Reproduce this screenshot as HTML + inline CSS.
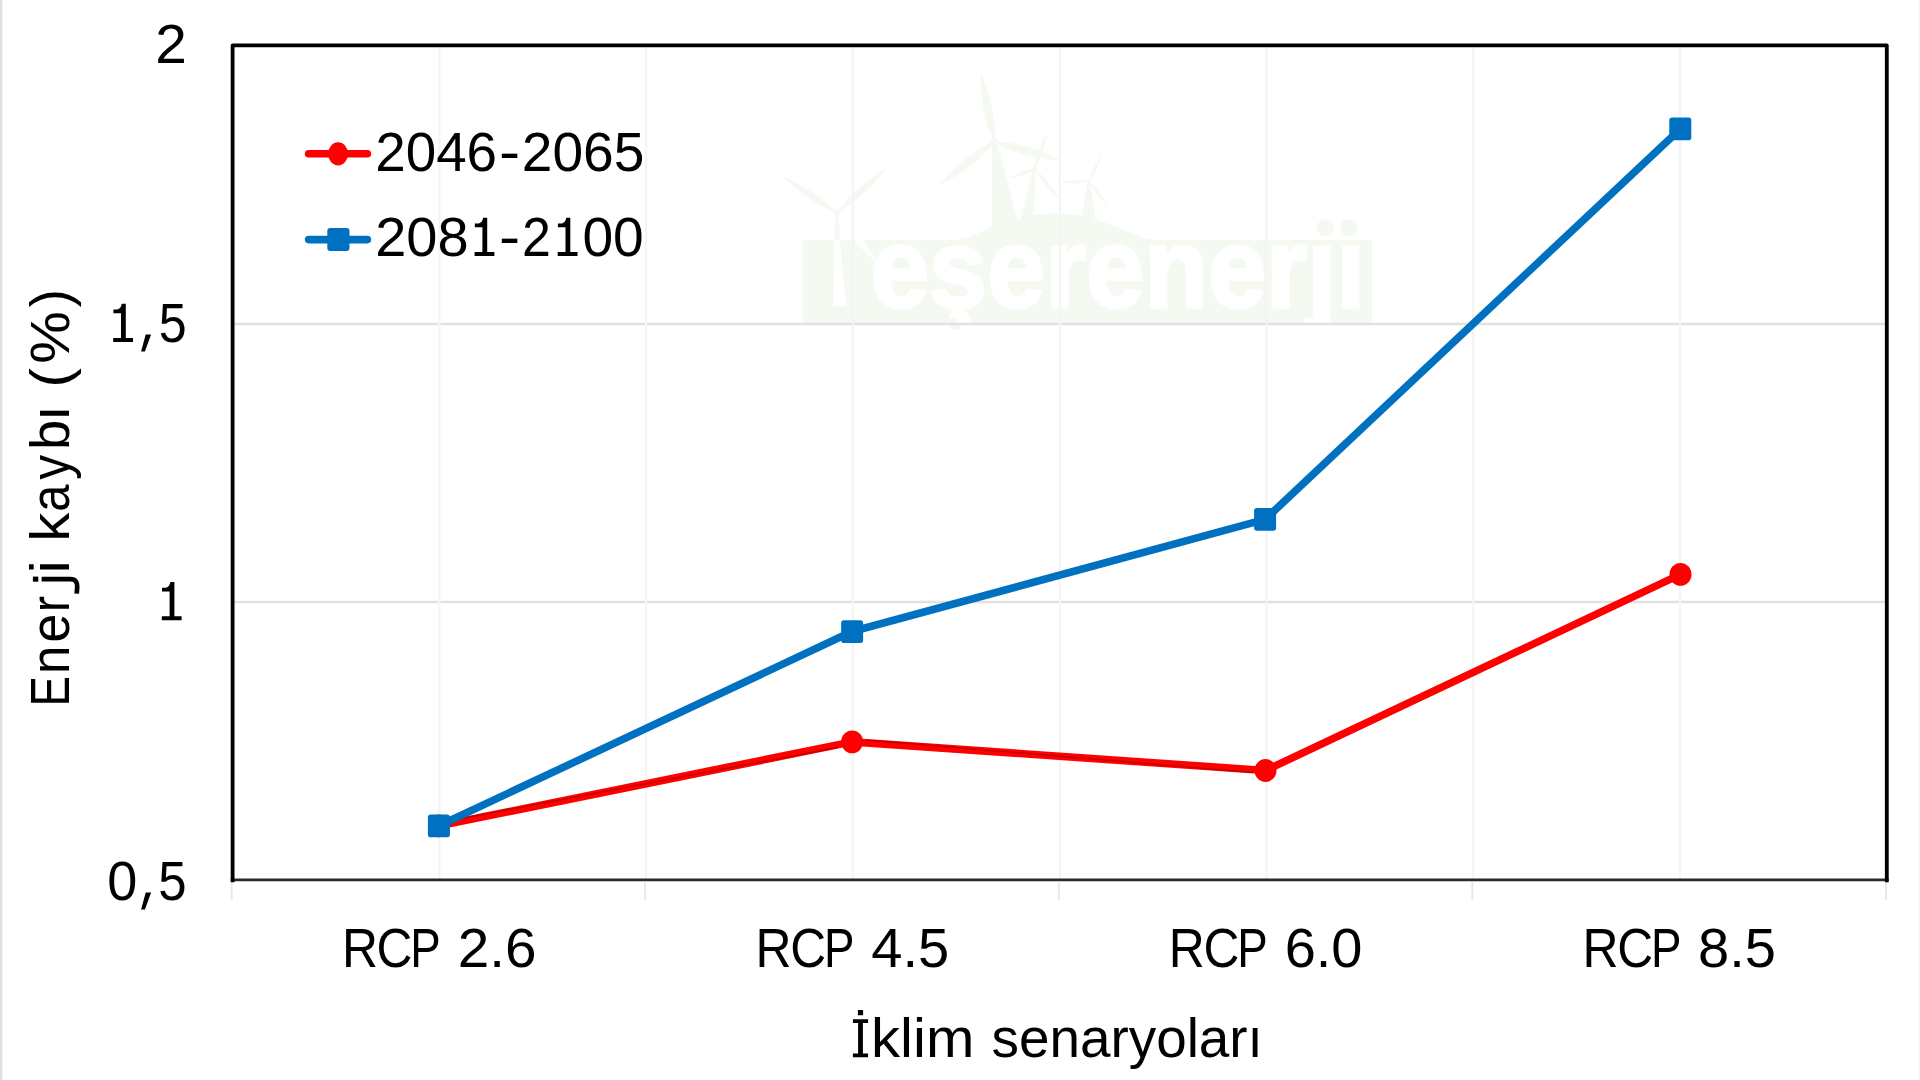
<!DOCTYPE html>
<html lang="tr">
<head>
<meta charset="utf-8">
<title>Enerji kaybı - İklim senaryoları</title>
<style>
html,body{margin:0;padding:0;background:#fff;width:1920px;height:1080px;overflow:hidden;font-family:"Liberation Sans",sans-serif;}
#edgeL{position:absolute;left:0;top:0;width:3px;height:1080px;background:linear-gradient(to right,#dedede 0,#dedede 1.6px,#fff 3px);}
#edgeR{position:absolute;left:1919px;top:0;width:1px;height:1080px;background:#f4f4f4;}
svg{position:absolute;left:0;top:0;display:block;}
</style>
</head>
<body>
<svg width="1920" height="1080" viewBox="0 0 1920 1080">
<rect x="0" y="0" width="1920" height="1080" fill="#ffffff"/>
<g id="watermark">
<rect x="802.5" y="240" width="569.7" height="83" fill="#f4faf2"/>
<path d="M948,241 C972,238 984,230 992,227 L1019,219 C1040,212 1065,212 1088,217 C1115,224 1135,238 1162,241 Z" fill="#f4faf2"/>
<path d="M992.0,141.7 L996.6,141.7 L1019.5,228.0 L991.5,228.0 Z" fill="#f4faf2"/>
<path d="M994.3,141.7 Q997.4,113.0 980.5,70.4 Q980.7,116.2 994.3,141.7 Z" fill="#f4faf2"/>
<path d="M994.3,141.7 Q967.8,151.7 938.5,185.7 Q978.4,165.1 994.3,141.7 Z" fill="#f4faf2"/>
<path d="M994.3,141.7 Q1018.1,157.3 1063.0,161.1 Q1022.7,140.9 994.3,141.7 Z" fill="#f4faf2"/>
<circle cx="994.3" cy="141.7" r="4.2" fill="#f4faf2"/>
<path d="M1033.2,168.9 L1035.8,168.9 L1033.5,219.0 L1020.5,219.0 Z" fill="#f4faf2"/>
<path d="M1034.5,168.9 Q1043.4,156.5 1047.4,132.6 Q1035.4,153.7 1034.5,168.9 Z" fill="#f4faf2"/>
<path d="M1034.5,168.9 Q1023.7,168.4 1009.8,178.0 Q1026.6,176.3 1034.5,168.9 Z" fill="#f4faf2"/>
<path d="M1034.5,168.9 Q1042.1,184.4 1063.0,202.6 Q1048.5,179.0 1034.5,168.9 Z" fill="#f4faf2"/>
<circle cx="1034.5" cy="168.9" r="2.4" fill="#f4faf2"/>
<path d="M1087.7,181.1 L1090.1,181.1 L1095.5,218.0 L1081.5,218.0 Z" fill="#f4faf2"/>
<path d="M1088.9,181.1 Q1096.8,172.4 1102.2,154.4 Q1091.1,169.5 1088.9,181.1 Z" fill="#f4faf2"/>
<path d="M1088.9,181.1 Q1078.1,178.4 1061.0,182.5 Q1078.5,184.8 1088.9,181.1 Z" fill="#f4faf2"/>
<path d="M1088.9,181.1 Q1093.5,192.4 1107.8,205.6 Q1098.6,188.5 1088.9,181.1 Z" fill="#f4faf2"/>
<circle cx="1088.9" cy="181.1" r="1.8" fill="#f4faf2"/>
<path d="M835.0,213.0 L838.8,213.0 L839.6,240.0 L834.2,240.0 Z" fill="#f4faf2"/>
<path d="M836.9,213.0 Q819.9,192.9 781.7,175.4 Q812.0,204.5 836.9,213.0 Z" fill="#f4faf2"/>
<path d="M836.9,213.0 Q861.0,200.6 888.0,166.8 Q851.6,190.3 836.9,213.0 Z" fill="#f4faf2"/>
<circle cx="836.9" cy="213.0" r="3.4" fill="#f4faf2"/>
<path d="M834.2,240 L839.6,240 L846.5,306.3 L833.5,306.3 Z" fill="#fff"/>
<path d="M836.9,213.0 Q847.4,237.1 878.9,264.8 Q858.3,228.3 836.9,213.0 Z" fill="#fff"/>
<path d="M836.9,213.0 L840,240 L834,240 Z" fill="#f4faf2"/>
<text transform="translate(870.87 306.6) scale(0.9179 1)" font-family='"Liberation Sans", sans-serif' font-weight="bold" font-size="114" fill="#fff" stroke="#fff" stroke-width="3" stroke-linejoin="round">eşerenerji</text>
<circle cx="1325.6" cy="227.8" r="8.8" fill="#f4faf2"/>
<circle cx="1348.9" cy="227.8" r="8.8" fill="#f4faf2"/>
<ellipse cx="955.5" cy="327" rx="5.5" ry="3.2" fill="#f4faf2"/>
</g>

<g stroke="#e1e1e1" stroke-width="2.4">
<line x1="232.6" y1="324.05" x2="1886.8" y2="324.05"/>
<line x1="232.6" y1="602.0" x2="1886.8" y2="602.0"/>
</g>
<g stroke="#f4f4f4" stroke-width="2.2">
<line x1="439.4" y1="45.3" x2="439.4" y2="879.7"/>
<line x1="646.1" y1="45.3" x2="646.1" y2="879.7"/>
<line x1="852.9" y1="45.3" x2="852.9" y2="879.7"/>
<line x1="1059.7" y1="45.3" x2="1059.7" y2="879.7"/>
<line x1="1266.5" y1="45.3" x2="1266.5" y2="879.7"/>
<line x1="1473.2" y1="45.3" x2="1473.2" y2="879.7"/>
<line x1="1680.0" y1="45.3" x2="1680.0" y2="879.7"/>
</g>
<g stroke="#e6e6e6" stroke-width="1.8">
<line x1="231.7" y1="882" x2="231.7" y2="900"/>
<line x1="645.2" y1="882" x2="645.2" y2="900"/>
<line x1="1058.8" y1="882" x2="1058.8" y2="900"/>
<line x1="1472.3" y1="882" x2="1472.3" y2="900"/>
<line x1="1885.9" y1="882" x2="1885.9" y2="900"/>
</g>
<line x1="230.7" y1="879.9" x2="1888.7" y2="879.9" stroke="#2a2a2a" stroke-width="2.9"/>
<path d="M232.6,882.2 L232.6,45.3 L1886.8,45.3 L1886.8,882.2" fill="none" stroke="#000" stroke-width="3.8" stroke-linejoin="round"/>
<polyline points="438.9,825.8 852.1,741.9 1265.5,770.5 1680.5,574.4" fill="none" stroke="#ff0000" stroke-width="7.6" stroke-linejoin="round" stroke-linecap="round"/>
<g stroke="#6a0000" stroke-opacity="0.4" stroke-width="1.5" fill="none"><line x1="866" y1="739.9" x2="1252" y2="772.4"/><line x1="452" y1="820.2" x2="838" y2="747.4"/></g>
<ellipse cx="438.9" cy="825.8" rx="11" ry="11.4" fill="#ff0000"/>
<ellipse cx="852.15" cy="741.85" rx="11" ry="11.4" fill="#ff0000"/>
<ellipse cx="1265.5" cy="770.5" rx="11" ry="11.4" fill="#ff0000"/>
<ellipse cx="1680.5" cy="574.4" rx="11" ry="11.4" fill="#ff0000"/>
<polyline points="438.9,825.8 852.1,631.5 1265.1,519.4 1680.3,128.9" fill="none" stroke="#0070c0" stroke-width="7.6" stroke-linejoin="round" stroke-linecap="round"/>
<rect x="427.90" y="814.40" width="22" height="22.8" rx="2.8" fill="#0070c0"/>
<rect x="841.15" y="620.15" width="22" height="22.8" rx="2.8" fill="#0070c0"/>
<rect x="1254.10" y="508.00" width="22" height="22.8" rx="2.8" fill="#0070c0"/>
<rect x="1669.30" y="117.55" width="22" height="22.8" rx="2.8" fill="#0070c0"/>
<line x1="308.6" y1="153.75" x2="367.4" y2="153.75" stroke="#ff0000" stroke-width="7.6" stroke-linecap="round"/>
<ellipse cx="338.1" cy="153.9" rx="10" ry="11.6" fill="#ff0000"/>
<line x1="308.6" y1="239.6" x2="367.4" y2="239.6" stroke="#0070c0" stroke-width="7.6" stroke-linecap="round"/>
<rect x="327.3" y="228" width="22.2" height="23" rx="3" fill="#0070c0"/>
<g font-family='"Liberation Sans", sans-serif' font-size="55" fill="#000">
<text transform="translate(155.36 62.50) scale(1.0320 1)">2</text>
<path transform="translate(123.40 342.00)" d="M-1.6,-38.2 L2.4,-38.2 L2.4,-4 L9.6,-4 L9.6,0 L-10.2,0 L-10.2,-4 L-2.4,-4 L-2.4,-28.8 L-10,-28.8 L-10,-32.6 L-6,-32.6 Q-2.6,-33 -1.6,-38.2 Z"/>
<path d="M145.7,334.6 L151.1,334.6 L144.9,351.4 L141.1,351.4 Z"/>
<text transform="translate(158.65 342.00) scale(0.9115 1)">5</text>
<path transform="translate(172.00 620.30)" d="M-1.6,-38.2 L2.4,-38.2 L2.4,-4 L9.6,-4 L9.6,0 L-10.2,0 L-10.2,-4 L-2.4,-4 L-2.4,-28.8 L-10,-28.8 L-10,-32.6 L-6,-32.6 Q-2.6,-33 -1.6,-38.2 Z"/>
<text transform="translate(107.19 900.00) scale(0.9829 1)">0</text>
<path d="M145.7,892.6 L151.1,892.6 L144.9,909.4 L141.1,909.4 Z"/>
<text transform="translate(158.21 900.00) scale(0.9269 1)">5</text>
<text transform="translate(341.92 966.70) scale(0.9077 1)">R</text>
<text transform="translate(376.62 966.70) scale(0.9036 1)">C</text>
<text transform="translate(410.36 966.70) scale(0.8308 1)">P</text>
<text transform="translate(457.77 966.70) scale(1.0302 1)">2.6</text>
<text transform="translate(755.62 966.70) scale(0.9077 1)">R</text>
<text transform="translate(790.32 966.70) scale(0.9036 1)">C</text>
<text transform="translate(824.06 966.70) scale(0.8308 1)">P</text>
<text transform="translate(871.23 966.70) scale(1.0192 1)">4.5</text>
<text transform="translate(1168.77 966.70) scale(0.9077 1)">R</text>
<text transform="translate(1203.47 966.70) scale(0.9036 1)">C</text>
<text transform="translate(1237.21 966.70) scale(0.8308 1)">P</text>
<text transform="translate(1284.70 966.70) scale(1.0175 1)">6.0</text>
<text transform="translate(1582.52 966.70) scale(0.9077 1)">R</text>
<text transform="translate(1617.22 966.70) scale(0.9036 1)">C</text>
<text transform="translate(1650.96 966.70) scale(0.8308 1)">P</text>
<text transform="translate(1698.05 966.70) scale(1.0195 1)">8.5</text>
<path d="M852.9,1019.2 h15.2 v3.9 h-5.2 v30.3 h5.2 v3.9 h-15.2 v-3.9 h5.2 v-30.3 h-5.2 Z M857.9,1010.1 h5.2 v5.2 h-5.2 Z"/>
<text transform="translate(871.04 1057.30) scale(1.0564 1)">klim</text>
<text transform="translate(991.50 1057.30) scale(0.9975 1)">senaryoları</text>
<text transform="translate(375.26 170.60) scale(0.9953 1)">2046</text>
<text transform="translate(499.11 170.60) scale(1.1547 1)">-</text>
<text transform="translate(521.85 170.60) scale(1.0013 1)">2065</text>
<text transform="translate(375.20 256.00) scale(1.0179 1)">208</text>
<path transform="translate(484.80 256.00)" d="M-1.6,-38.2 L2.4,-38.2 L2.4,-4 L9.6,-4 L9.6,0 L-10.2,0 L-10.2,-4 L-2.4,-4 L-2.4,-28.8 L-10,-28.8 L-10,-32.6 L-6,-32.6 Q-2.6,-33 -1.6,-38.2 Z"/>
<text transform="translate(499.11 256.00) scale(1.1547 1)">-</text>
<text transform="translate(522.00 256.00) scale(0.9440 1)">2</text>
<path transform="translate(567.90 256.00)" d="M-1.6,-38.2 L2.4,-38.2 L2.4,-4 L9.6,-4 L9.6,0 L-10.2,0 L-10.2,-4 L-2.4,-4 L-2.4,-28.8 L-10,-28.8 L-10,-32.6 L-6,-32.6 Q-2.6,-33 -1.6,-38.2 Z"/>
<text transform="translate(582.44 256.00) scale(1.0026 1)">00</text>
<text transform="translate(69.30 706.54) rotate(-90) scale(0.8303 1)">E</text>
<text transform="translate(69.30 673.97) rotate(-90) scale(0.9247 1)">n</text>
<text transform="translate(69.30 642.51) rotate(-90) scale(0.9385 1)">e</text>
<text transform="translate(69.30 612.13) rotate(-90) scale(0.8873 1)">r</text>
<text transform="translate(69.30 573.25) rotate(-90) scale(1.0526 1)">i</text>
<text transform="translate(69.30 541.66) rotate(-90) scale(1.0568 1)">k</text>
<text transform="translate(69.30 511.80) rotate(-90) scale(0.8885 1)">a</text>
<text transform="translate(69.30 479.83) rotate(-90) scale(0.9037 1)">y</text>
<text transform="translate(69.30 450.05) rotate(-90) scale(0.9859 1)">b</text>
<text transform="translate(69.30 421.33) rotate(-90) scale(1.0526 1)">ı</text>
<text transform="translate(69.30 387.58) rotate(-90) scale(1.0526 1)">(</text>
<text transform="translate(69.30 363.85) rotate(-90) scale(1.0756 1)">%</text>
<text transform="translate(69.30 307.19) rotate(-90) scale(0.9862 1)">)</text>
<path d="M41.6,579.1 L70.2,579.1 C75.8,579.1 77.5,582.6 77.2,587.2 L76.7,593.6" fill="none" stroke="#000" stroke-width="4.7"/>
<rect x="32.9" y="576.6" width="5.4" height="5.1"/>
</g>
</svg>
<div id="edgeL"></div><div id="edgeR"></div>
</body>
</html>
